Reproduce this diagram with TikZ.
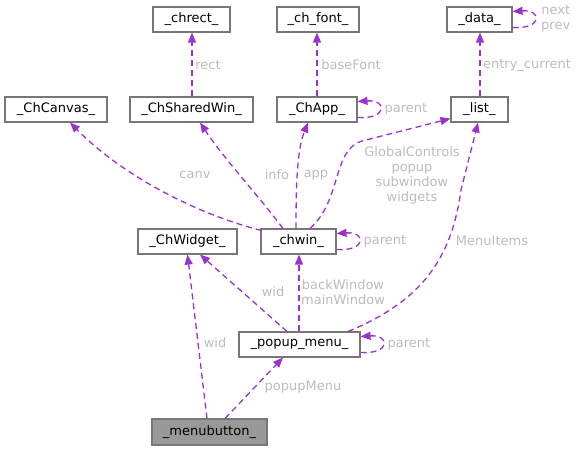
\documentclass[tikz,border=0pt]{standalone}
\usepackage{fontspec}
\setmainfont{DejaVu Sans}
\usetikzlibrary{arrows.meta,calc}
\definecolor{edgec}{HTML}{9A32CD}
\definecolor{labc}{HTML}{BCBCBC}
\definecolor{boxc}{HTML}{777777}
\definecolor{curc}{HTML}{999999}
\begin{document}
\begin{tikzpicture}[x=1pt,y=-1pt,
  cls/.style={draw=boxc,line width=1.1pt,fill=white,inner sep=0pt,minimum height=25pt,font=\fontsize{13}{15}\selectfont},
  lab/.style={text=labc,inner sep=0pt,align=center,font=\fontsize{13}{15}\selectfont},
  edge/.style={draw=edgec,color=edgec,line width=1.3pt,dash pattern=on 6pt off 4pt,-{Triangle[length=10pt,width=8pt]}},
]
\useasboundingbox (0,0) rectangle (577,451);
% nodes
\node[cls,minimum width=77pt] (chrect) at (191.5,19.5) {\_chrect\_};
\node[cls,minimum width=82pt] (chfont) at (318,19.5) {\_ch\_font\_};
\node[cls,minimum width=65pt] (data) at (479.5,19.5) {\_data\_};
\node[cls,minimum width=102pt] (canvas) at (56,109.5) {\_ChCanvas\_};
\node[cls,minimum width=123pt] (shared) at (191.5,109.5) {\_ChSharedWin\_};
\node[cls,minimum width=80pt] (app) at (317,109.5) {\_ChApp\_};
\node[cls,minimum width=57pt] (list) at (479.5,109.5) {\_list\_};
\node[cls,minimum width=99pt] (widget) at (187.5,241.5) {\_ChWidget\_};
\node[cls,minimum width=75pt] (chwin) at (298.5,241.5) {\_chwin\_};
\node[cls,minimum width=121pt] (popup) at (299.5,344.5) {\_popup\_menu\_};
\node[cls,minimum width=115pt,minimum height=26pt,fill=curc] (menub) at (209.5,432) {\_menubutton\_};
% edges
\draw[edge] ($(shared.north)+(0.5,0)$) -- ($(chrect.south)+(0.5,0)$);
\draw[edge] (app.north) -- (app.north |- chfont.south);
\draw[edge] ($(list.north)+(0.5,0)$) -- ($(data.south)+(0.5,0)$);
\draw[edge] ($(data.east)+(0,8)$) .. controls +(30,2) and +(30,-2) .. ($(data.east)+(0,-8)$);
\draw[edge] ($(app.east)+(0,8)$) .. controls +(30,2) and +(30,-2) .. ($(app.east)+(0,-8)$);
\draw[edge] ($(chwin.north west)+(1,2)$) .. controls (200,215) and (125,178) .. ($(canvas.south)+(14,0)$);
\draw[edge] ($(chwin.north)+(-15.5,0)$) .. controls (258,195) and (225,160) .. ($(shared.south)+(8.5,0)$);
\draw[edge] ($(chwin.north)+(-2.5,0)$) .. controls (296,185) and (297,150) .. ($(app.south)+(-9,0)$);
\draw[edge] ($(chwin.north)+(11.5,0)$) .. controls (342,200) and (332,150) .. (362,141) -- ($(list.south west)+(0,-4)$);
\draw[edge] ($(chwin.east)+(0,8)$) .. controls +(30,2) and +(30,-2) .. ($(chwin.east)+(0,-8)$);
\draw[edge] ($(popup.north)+(-12.5,0)$) -- ($(widget.south)+(12.5,0)$);
\draw[edge] ($(popup.north)+(-0.5,0)$) -- ($(popup.north |- chwin.south)+(-0.5,0)$);
\draw[edge] ($(popup.north)+(48.5,0)$) .. controls (425,300) and (452,255) .. (461,190) -- ($(list.south)+(-1.5,0)$);
\draw[edge] ($(popup.east)+(0,8)$) .. controls +(30,2) and +(30,-2) .. ($(popup.east)+(0,-8)$);
\draw[edge] ($(menub.north)+(-2.5,0)$) -- (widget.south);
\draw[edge] ($(menub.north)+(15.5,0)$) -- ($(popup.south)+(-16.5,0)$);
% labels
\node[lab] (lrect) at (208,65) {rect};
\node[lab] (lbase) at (351,65) {baseFont};
\node[lab] (lentry) at (527,65) {entry\_current};
\node[lab,anchor=west] (lnext) at (541,19) {next\\prev};
\node[lab] (lapppar) at (406,109) {parent};
\node[lab] (lcanv) at (195,175) {canv};
\node[lab] (linfo) at (277,175) {info};
\node[lab] (lapp) at (316,175) {app};
\node[lab] (lglob) at (412,175) {GlobalControls\\popup\\subwindow\\widgets};
\node[lab] (lwinpar) at (385,241) {parent};
\node[lab] (lwid1) at (273,292) {wid};
\node[lab] (lback) at (343,292) {backWindow\\mainWindow};
\node[lab] (lmenu) at (492,241) {MenuItems};
\node[lab] (lpoppar) at (409,344) {parent};
\node[lab] (lwid2) at (215,343) {wid};
\node[lab] (lpopm) at (303,387) {popupMenu};
\end{tikzpicture}
\end{document}
